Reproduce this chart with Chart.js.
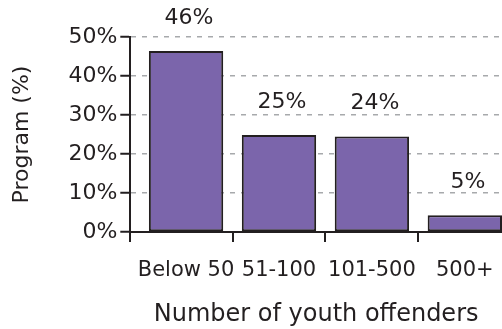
<!DOCTYPE html>
<html>
<head>
<meta charset="utf-8">
<script src="https://cdn.jsdelivr.net/npm/chart.js@4"></script>
<style>
  html, body { margin: 0; padding: 0; background: #fff; }
  #wrap { width: 502px; height: 329px; position: relative; }
</style>
</head>
<body>
<div id="wrap"><canvas id="chart"></canvas></div>
<script>
// Data
const categories = ['Below 50', '51-100', '101-500', '500+'];
const programShare = [46.4, 24.9, 24.5, 4.3];
const valueLabels = ['46%', '25%', '24%', '5%'];
const yTicks = [0, 10, 20, 30, 40, 50];
// x tick marks sit between the bars, labels sit under the bars
const xTickMarks = [-0.6, 0.5, 1.5, 2.5];
const xLabelPos = [0, 1, 2, 3];

const INK = '#231F20';
const FONT = "'DejaVu Sans', 'Liberation Sans', Arial, sans-serif";

// % labels above each bar
const barLabels = {
  id: 'barLabels',
  afterDatasetsDraw(chart) {
    const ctx = chart.ctx;
    const meta = chart.getDatasetMeta(0);
    ctx.save();
    ctx.font = '22px ' + FONT;
    ctx.fillStyle = INK;
    ctx.textAlign = 'center';
    ctx.textBaseline = 'middle';
    meta.data.forEach((bar, i) => {
      ctx.fillText(valueLabels[i], bar.x + 3, bar.y - 33);
    });
    ctx.restore();
  }
};

new Chart(document.getElementById('chart'), {
  type: 'bar',
  data: {
    datasets: [{
      data: categories.map((c, i) => ({ x: xLabelPos[i], y: programShare[i] })),
      backgroundColor: '#7B65AB',
      borderColor: INK,
      borderWidth: 2,
      borderSkipped: false,
      categoryPercentage: 0.8,
      barPercentage: 1,
      xAxisID: 'x'
    }]
  },
  options: {
    responsive: true,
    maintainAspectRatio: false,
    animation: false,
    layout: { padding: { top: 37, right: 0, left: 6, bottom: 0 } },
    plugins: { legend: { display: false }, tooltip: { enabled: false } },
    scales: {
      x: {
        type: 'linear', position: 'bottom', min: -0.6, max: 3.4, offset: false,
        afterBuildTicks: axis => { axis.ticks = xTickMarks.map(v => ({ value: v })); },
        grid: { offset: false, drawOnChartArea: false, color: INK, tickLength: 10, lineWidth: 2 },
        border: { color: INK, width: 2 },
        ticks: { display: false }
      },
      xLabels: {
        type: 'linear', position: 'bottom', min: -0.6, max: 3.4, offset: false,
        afterBuildTicks: axis => { axis.ticks = xLabelPos.map(v => ({ value: v })); },
        grid: { display: false, offset: false },
        border: { display: false },
        ticks: { color: INK, font: { family: FONT, size: 21 }, padding: 8, maxRotation: 0, autoSkip: false,
                 callback: v => categories[v] },
        title: { display: true, text: 'Number of youth offenders', color: INK, font: { family: FONT, size: 24 }, padding: { top: 9, bottom: 0 } }
      },
      y: {
        min: 0, max: 50,
        afterBuildTicks: axis => { axis.ticks = yTicks.map(v => ({ value: v })); },
        grid: { color: '#A7A9AC', lineWidth: 1.5, tickColor: INK, tickLength: 10, tickWidth: 2, tickBorderDash: [] },
        border: { color: INK, width: 2, dash: [5, 6] },
        ticks: { color: INK, font: { family: FONT, size: 22 }, padding: 3, callback: v => v + '%' },
        title: { display: true, text: 'Program (%)', color: INK, font: { family: FONT, size: 22 }, padding: { top: 3, bottom: 30 } }
      }
    }
  },
  plugins: [barLabels]
});
</script>
</body>
</html>
